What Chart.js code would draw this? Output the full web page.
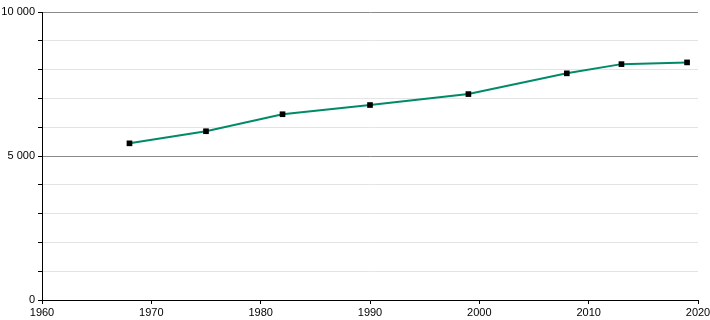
<!DOCTYPE html>
<html lang="en">
<head>
    <meta charset="UTF-8">
    <title>Population chart</title>
    <style>
        body {
            margin: 0;
            background-color: #fff;
        }
    </style>
</head>
<body>
    <canvas id="popChart" width="710" height="320"></canvas>

    <script src="https://cdn.jsdelivr.net/npm/chart.js"></script>
    <script>
        // Values
        var years = [1968, 1975, 1982, 1990, 1999, 2008, 2013, 2019];
        var population = [5440, 5860, 6450, 6770, 7150, 7870, 8190, 8250];
        var yLabels = [0, 5000, 10000];

        function formatNum(v) {
            return String(v).replace(/\B(?=(\d{3})+(?!\d))/g, ' ');
        }

        var points = years.map(function (y, i) {
            return { x: y, y: population[i] };
        });

        var ctx = document.getElementById('popChart').getContext('2d');
        var popChart = new Chart(ctx, {
            type: 'line',
            data: {
                datasets: [{
                    data: points,
                    borderColor: '#008a68',
                    borderWidth: 2,
                    tension: 0,
                    pointStyle: 'rect',
                    pointRadius: 4,
                    pointBackgroundColor: '#000',
                    pointBorderColor: '#000',
                    pointBorderWidth: 0
                }]
            },
            options: {
                responsive: false,
                animation: false,
                layout: { padding: { left: 0, right: 12, top: 12, bottom: 0 } },
                plugins: {
                    legend: { display: false },
                    tooltip: { enabled: false }
                },
                scales: {
                    x: {
                        type: 'linear',
                        min: 1960,
                        max: 2020,
                        ticks: {
                            stepSize: 10,
                            autoSkip: false,
                            maxRotation: 0,
                            color: '#000',
                            padding: 2,
                            font: { family: 'Liberation Sans', size: 11 },
                            callback: function (v) { return String(v); }
                        },
                        grid: {
                            drawOnChartArea: false,
                            tickLength: 4,
                            tickColor: '#000'
                        },
                        border: { color: '#000', width: 1 },
                        afterFit: function (s) {
                            s.height = 20;
                            s.paddingLeft = 0;
                            s.paddingRight = 0;
                        }
                    },
                    y: {
                        min: 0,
                        max: 10000,
                        ticks: {
                            stepSize: 1000,
                            autoSkip: false,
                            color: '#000',
                            padding: 3,
                            font: { family: 'Liberation Sans', size: 11 },
                            callback: function (v) {
                                return yLabels.indexOf(v) >= 0 ? formatNum(v) : '';
                            }
                        },
                        grid: {
                            tickLength: 4,
                            tickColor: '#000',
                            color: function (c) {
                                if (!c.tick) return '#e4e4e4';
                                return c.tick.value % 5000 === 0 ? '#8a8a8a' : '#e4e4e4';
                            }
                        },
                        border: { color: '#000', width: 1 },
                        afterFit: function (s) { s.width = 42; }
                    }
                }
            }
        });
    </script>
</body>
</html>
